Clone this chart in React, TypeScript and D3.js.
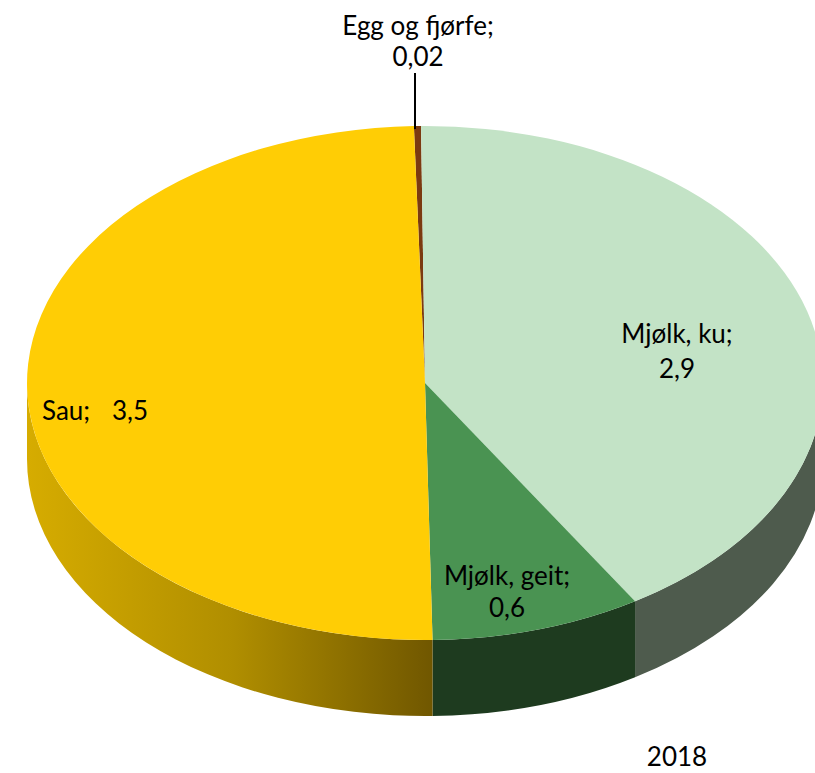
import React from "react";
import * as d3 from "d3";

const categories = ["Egg og fjørfe", "Mjølk, ku", "Mjølk, geit", "Sau"];
const values = [0.02, 2.9, 0.6, 3.5];
const valueLabels = ["0,02", "2,9", "0,6", "3,5"];
const topColors = ["#7B3A10", "#C3E3C6", "#4A9352", "#FFCD05"];
const sideColors = ["#4A2208", "#4E5B4D", "#1E3B1F", "url(#sauSide)"];
const yearLabel = "2018";

const W = 815;
const H = 773;
const cx = 425;
const cy = 383;
const rx = 398;
const ry = 257;
const depth = 76;
const startAngle = (-1.6 * Math.PI) / 180;

function pt(a: number, dy = 0): [number, number] {
  return [cx + rx * Math.sin(a), cy - ry * Math.cos(a) + dy];
}

export default function App() {
  const pie = d3
    .pie<number>()
    .sort(null)
    .value((d) => d)
    .startAngle(startAngle)
    .endAngle(startAngle + 2 * Math.PI);
  const arcs = pie(values);
  const arcGen = d3.arc<any>().innerRadius(0).outerRadius(rx);

  const sides = arcs.map((a, i) => {
    const lo = Math.max(a.startAngle, Math.PI / 2);
    const hi = Math.min(a.endAngle, (3 * Math.PI) / 2);
    if (hi <= lo) return null;
    const p1 = pt(lo);
    const p2 = pt(hi);
    const p3 = pt(hi, depth);
    const p4 = pt(lo, depth);
    const d = `M${p1[0]},${p1[1]} A${rx},${ry} 0 0 1 ${p2[0]},${p2[1]} L${p3[0]},${p3[1]} A${rx},${ry} 0 0 0 ${p4[0]},${p4[1]} Z`;
    return <path key={"s" + i} d={d} fill={sideColors[i]} />;
  });

  const font = "Lato, 'Open Sans', sans-serif";
  const fs = 26;

  return (
    <svg width={W} height={H} style={{ position: "absolute", left: 0, top: 0 }}>
      <defs>
        <linearGradient id="sauSide" gradientUnits="userSpaceOnUse" x1={27} y1={0} x2={440} y2={0}>
          <stop offset="0" stopColor="#D6AC00" />
          <stop offset="0.5" stopColor="#B08E00" />
          <stop offset="1" stopColor="#6E5500" />
        </linearGradient>
      </defs>
      <rect width={W} height={H} fill="#ffffff" />
      {sides}
      <g transform={`translate(${cx},${cy}) scale(1,${ry / rx})`}>
        {arcs.map((a, i) => (
          <path key={"t" + i} d={arcGen(a) as string} fill={topColors[i]} />
        ))}
      </g>
      <line x1={415} y1={73} x2={415} y2={129} stroke="#000" strokeWidth={2} />
      <g fontFamily={font} fontSize={fs} fill="#000" textAnchor="middle">
        <text x={418} y={35}>{categories[0]};</text>
        <text x={418} y={66}>{valueLabels[0]}</text>
        <text x={677} y={343}>{categories[1]};</text>
        <text x={677} y={378}>{valueLabels[1]}</text>
        <text x={507} y={585}>{categories[2]};</text>
        <text x={507} y={617}>{valueLabels[2]}</text>
        <text x={42} y={420} textAnchor="start">{categories[3] + ";"}</text>
        <text x={112} y={420} textAnchor="start">{valueLabels[3]}</text>
        <text x={677} y={766}>{yearLabel}</text>
      </g>
    </svg>
  );
}
